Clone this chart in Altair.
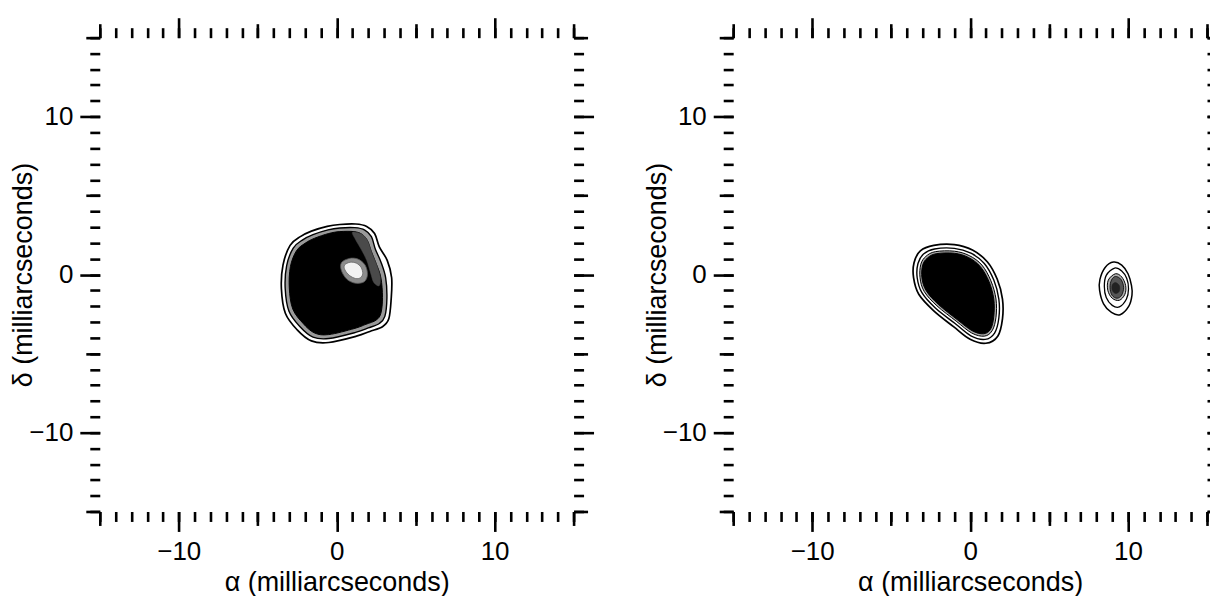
import altair as alt
import pandas as pd

# ---------------- data (alpha, delta) in milliarcseconds ----------------
# Left panel: single extended source
L_OUTER = [(-2.95, 1.85), (-2.3, 2.4), (-1.6, 2.75), (-0.6, 3.05), (0.2, 3.17), (1.2, 3.2),
           (1.9, 3.05), (2.4, 2.6), (2.7, 1.75), (3.2, 0.9), (3.48, -0.2), (3.45, -1.55),
           (3.3, -2.8), (2.9, -3.3), (2.1, -3.6), (1.25, -3.9), (-0.5, -4.3), (-1.6, -4.2),
           (-2.5, -3.5), (-3.25, -2.45), (-3.5, -0.9), (-3.4, 0.6)]
L_C2 = [(-2.75, 1.68), (-2.15, 2.2), (-1.5, 2.53), (-0.55, 2.83), (0.2, 2.95), (1.15, 2.97),
        (1.78, 2.82), (2.2, 2.4), (2.45, 1.6), (2.8, 0.8), (3.1, -0.2), (3.18, -1.5),
        (3.05, -2.65), (2.7, -3.1), (2.0, -3.38), (1.2, -3.66), (-0.5, -4.05), (-1.5, -3.96),
        (-2.32, -3.3), (-3.02, -2.32), (-3.26, -0.88), (-3.17, 0.55)]
L_CORE = [(-2.55, 1.5), (-2.0, 1.98), (-1.4, 2.3), (-0.5, 2.6), (0.2, 2.72), (1.1, 2.72),
          (1.6, 2.55), (1.95, 2.15), (2.2, 1.45), (2.5, 0.7), (2.8, -0.2), (2.9, -1.45),
          (2.8, -2.45), (2.5, -2.88), (1.85, -3.15), (1.1, -3.42), (-0.5, -3.8), (-1.4, -3.7),
          (-2.12, -3.1), (-2.78, -2.18), (-3.0, -0.85), (-2.93, 0.5)]
L_GREY = [(1.0, 2.68), (1.6, 2.55), (1.95, 2.15), (2.2, 1.45), (2.5, 0.7), (2.75, -0.1),
          (2.7, -0.7), (2.35, -0.5), (2.15, 0.1), (1.9, 0.9), (1.55, 1.6), (1.2, 2.2)]
L_RING = [(0.3, 0.75), (0.8, 1.02), (1.35, 0.98), (1.8, 0.6), (1.95, 0.0), (1.75, -0.45),
          (1.2, -0.55), (0.65, -0.3), (0.3, 0.25)]
L_HOLE = [(0.5, 0.6), (0.85, 0.78), (1.25, 0.72), (1.55, 0.45), (1.65, 0.05), (1.5, -0.2),
          (1.2, -0.25), (0.8, -0.05), (0.52, 0.3)]

# Right panel: main source
R_OUTER = [(-3.55, 0.75), (-3.15, 1.5), (-2.3, 1.85), (-1.0, 1.9), (0.15, 1.55), (1.1, 0.8),
           (1.72, -0.3), (2.05, -1.55), (2.05, -2.8), (1.75, -3.9), (1.0, -4.35), (0.0, -4.1),
           (-1.05, -3.3), (-2.3, -2.3), (-3.25, -1.25), (-3.58, -0.2)]
R_C2 = [(-3.3, 0.7), (-2.95, 1.3), (-2.25, 1.62), (-1.0, 1.66), (0.05, 1.35), (0.9, 0.7),
        (1.5, -0.35), (1.82, -1.55), (1.82, -2.75), (1.55, -3.7), (0.95, -4.1), (0.05, -3.88),
        (-0.95, -3.1), (-2.2, -2.12), (-3.05, -1.15), (-3.35, -0.2)]
R_C3 = [(-3.12, 0.65), (-2.8, 1.15), (-2.2, 1.45), (-1.0, 1.48), (-0.05, 1.2), (0.75, 0.6),
        (1.32, -0.4), (1.64, -1.55), (1.64, -2.7), (1.4, -3.55), (0.9, -3.9), (0.1, -3.7),
        (-0.88, -2.95), (-2.1, -1.98), (-2.9, -1.08), (-3.17, -0.2)]
R_CORE = [(-3.0, 0.6), (-2.7, 1.05), (-2.15, 1.32), (-1.0, 1.35), (-0.1, 1.08), (0.65, 0.5),
          (1.2, -0.45), (1.5, -1.55), (1.5, -2.65), (1.3, -3.45), (0.85, -3.75), (0.12, -3.55),
          (-0.82, -2.85), (-2.02, -1.88), (-2.78, -1.02), (-3.05, -0.2)]
# Right panel: compact secondary source
S_OUTER = [(9.08, 0.79), (9.6, 0.6), (10.0, 0.05), (10.22, -0.7), (10.25, -1.3), (10.05, -2.0),
           (9.5, -2.54), (8.95, -2.4), (8.45, -1.85), (8.2, -1.0), (8.22, -0.3), (8.55, 0.45)]
S_C2 = [(9.15, 0.41), (9.6, 0.22), (9.92, -0.25), (10.03, -0.9), (9.9, -1.55), (9.45, -2.05),
        (9.0, -1.95), (8.62, -1.45), (8.5, -0.75), (8.62, -0.05)]
S_C3 = [(9.2, 0.05), (9.6, -0.15), (9.85, -0.7), (9.8, -1.25), (9.45, -1.63), (9.0, -1.5),
        (8.72, -1.0), (8.75, -0.35)]
S_C4 = [(9.2, -0.12), (9.55, -0.3), (9.72, -0.8), (9.6, -1.3), (9.3, -1.5), (8.98, -1.3),
        (8.86, -0.8), (8.95, -0.35)]
S_CORE = [(9.2, -0.5), (9.45, -0.7), (9.45, -1.05), (9.2, -1.2), (9.0, -1.0), (9.0, -0.65)]

# ---------------- axes ----------------
DOMAIN = [-15, 15]
MAJOR = [-10, 0, 10]
MEDIUM = [-15, -5, 5, 15]
MINOR = list(range(-15, 16))
XTITLE = "α (milliarcseconds)"
YTITLE = "δ (milliarcseconds)"
FONT = "Liberation Sans"
W = H = 475

scale = alt.Scale(domain=DOMAIN, nice=False, zero=False)


def frame(pts):
    return pd.DataFrame({"a": [p[0] for p in pts],
                         "d": [p[1] for p in pts],
                         "i": list(range(len(pts)))})


def contour(pts, fill=None, stroke="black", sw=1.4):
    kw = dict(interpolate="cardinal-closed", stroke=stroke, strokeWidth=sw)
    if fill is not None:
        kw["fill"] = fill
    return alt.Chart(frame(pts)).mark_line(**kw).encode(
        x=alt.X("a:Q", scale=scale, axis=None),
        y=alt.Y("d:Q", scale=scale, axis=None),
        order="i:Q",
    )


COMMON = dict(domain=False, grid=False, ticks=True, tickColor="black", tickWidth=2.6,
              tickCap="butt")


def axis(orient, values, size, labelled):
    kw = dict(COMMON, orient=orient, values=values, tickSize=size)
    if labelled:
        kw.update(labels=True, format="d", labelFont=FONT, labelFontSize=26,
                  labelColor="black", labelPadding=7,
                  labelFlush=False, labelOverlap=False,
                  titleFont=FONT, titleFontSize=27, titleFontWeight="normal",
                  titleColor="black")
        if orient == "bottom":
            kw.update(title=XTITLE, titleX=W / 2, titleY=79, titleAlign="center",
                      titleBaseline="alphabetic")
        else:
            kw.update(title=YTITLE, titleX=-76, titleY=H / 2, titleAngle=270,
                      titleAlign="center", titleBaseline="middle")
    else:
        kw.update(labels=False, title=None)
    return alt.Axis(**kw)


def axis_layer(pts, xo, yo, values, size, labelled):
    return alt.Chart(frame(pts)).mark_point(opacity=0, size=1).encode(
        x=alt.X("a:Q", scale=scale, axis=axis(xo, values, size, labelled)),
        y=alt.Y("d:Q", scale=scale, axis=axis(yo, values, size, labelled)),
    )


def axes(pts):
    out = []
    for xo, yo, lab in (("bottom", "left", True), ("top", "right", False)):
        out.append(axis_layer(pts, xo, yo, MINOR, 10, False))
        out.append(axis_layer(pts, xo, yo, MEDIUM, 14, False))
        out.append(axis_layer(pts, xo, yo, MAJOR, 20, lab))
    return out


left = alt.layer(
    contour(L_OUTER, sw=1.7),
    contour(L_C2, fill="#9a9a9a", sw=1.4),
    contour(L_CORE, fill="black", sw=1.0),
    contour(L_GREY, fill="#4a4a4a", stroke="#4a4a4a", sw=0.5),
    contour(L_RING, fill="#8c8c8c", stroke="#555", sw=0.8),
    contour(L_HOLE, fill="#f2f2f2", stroke="#666", sw=0.8),
    *axes(L_OUTER),
).resolve_axis(x="independent", y="independent").properties(width=W, height=H)

right = alt.layer(
    contour(R_OUTER, sw=1.7),
    contour(R_C2, sw=1.4),
    contour(R_C3, fill="#a8a8a8", sw=1.0),
    contour(R_CORE, fill="black", sw=1.0),
    contour(S_OUTER, sw=1.5),
    contour(S_C2, sw=1.3),
    contour(S_C3, fill="#b0b0b0", sw=1.0),
    contour(S_C4, fill="#555555", sw=0.8),
    contour(S_CORE, fill="#222222", stroke="#222222", sw=0.5),
    *axes(R_OUTER),
).resolve_axis(x="independent", y="independent").properties(width=W, height=H)

chart = alt.hconcat(left, right, spacing=48).configure_view(strokeWidth=0).properties(
    padding={"left": 2, "top": 7, "right": -19, "bottom": 0},
    background="white",
)

chart.save("out.html", embed_options={"renderer": "svg", "actions": False})
